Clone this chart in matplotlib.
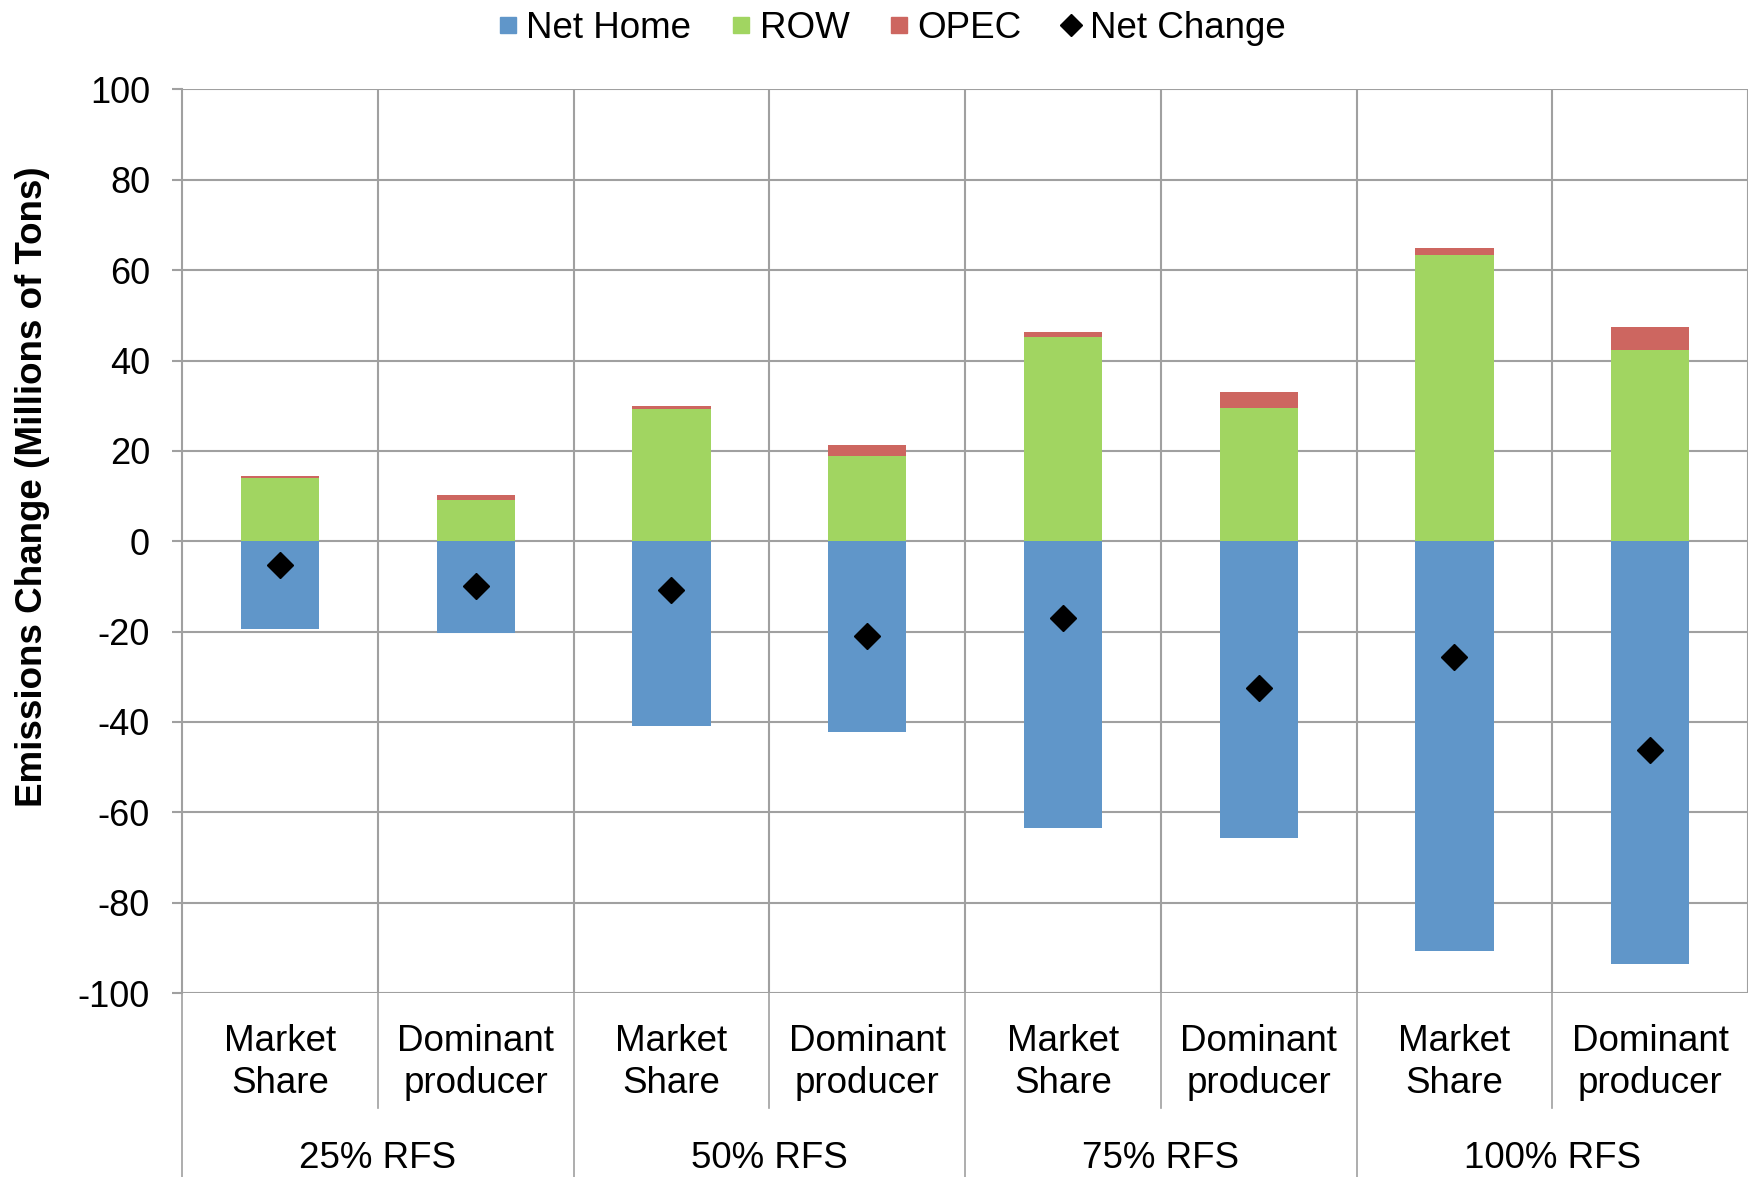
import matplotlib.pyplot as plt
import numpy as np
from matplotlib.lines import Line2D
from matplotlib.transforms import blended_transform_factory

plt.rcParams['font.family'] = ['Liberation Sans', 'DejaVu Sans']
plt.rcParams['axes.unicode_minus'] = False

# emissions change by scenario, millions of tons
sub_labels = ['Market\nShare', 'Dominant\nproducer'] * 4
group_labels = ['25% RFS', '50% RFS', '75% RFS', '100% RFS']
net_home = [-19.5, -20.4, -40.8, -42.3, -63.4, -65.6, -90.6, -93.6]
row = [14.0, 9.2, 29.3, 18.8, 45.2, 29.4, 63.3, 42.3]
opec = [0.4, 1.1, 0.7, 2.4, 1.1, 3.7, 1.7, 5.1]
net_change = [-5.2, -9.8, -10.9, -20.9, -17.1, -32.4, -25.7, -46.3]

c_home = '#6096C9'
c_row = '#A1D561'
c_opec = '#CD6660'
grid_c = '#A0A0A0'
fs = 26.5

fig = plt.figure(figsize=(17.54, 11.77), dpi=100)
ax = fig.add_axes([0.1038, 0.1563, 0.8928, 0.7677])

x = np.arange(len(net_home)) + 0.5
w = 0.40
ax.bar(x, net_home, w, color=c_home, zorder=3)
ax.bar(x, row, w, color=c_row, zorder=3)
ax.bar(x, opec, w, bottom=row, color=c_opec, zorder=3)
ax.plot(x, net_change, 'D', color='black', markersize=13.5, linestyle='none', zorder=4)

ax.set_xlim(0, 8)
ax.set_ylim(-100, 100)
ax.set_yticks(np.arange(-100, 101, 20))
ax.set_xticks([])
ax.grid(axis='y', color=grid_c, linewidth=1.5, zorder=0)
for xv in range(1, 9):
    ax.axvline(xv, color=grid_c, linewidth=1.5, zorder=0)
for s in ['top', 'right', 'bottom']:
    ax.spines[s].set_visible(False)
ax.spines['left'].set_color(grid_c)
ax.spines['left'].set_linewidth(1.5)
ax.tick_params(axis='y', direction='out', length=7, width=1.5, color=grid_c,
               labelsize=26, pad=16)
fig.text(0.0185, 0.5867, 'Emissions Change (Millions of Tons)', rotation=90,
         ha='center', va='center', fontsize=26.5, fontweight='bold')

# two-level category axis below the plot
tr = blended_transform_factory(ax.transData, ax.transAxes)
for i, lab in enumerate(sub_labels):
    ax.text(x[i], -0.077, lab, transform=tr, ha='center', va='center',
            fontsize=fs, linespacing=1.25)
for g, lab in enumerate(group_labels):
    ax.text(2 * g + 1, -0.183, lab, transform=tr, ha='center', va='center',
            fontsize=fs)
for xv in range(0, 8):
    bottom = -0.204 if xv % 2 == 0 else -0.127
    ax.add_line(Line2D([xv, xv], [0, bottom], transform=tr, color=grid_c,
                       linewidth=1.2, clip_on=False))

handles = [
    Line2D([], [], marker='s', color=c_home, linestyle='none', markersize=12),
    Line2D([], [], marker='s', color=c_row, linestyle='none', markersize=12),
    Line2D([], [], marker='s', color=c_opec, linestyle='none', markersize=12),
    Line2D([], [], marker='D', color='black', linestyle='none', markersize=11),
]
fig.legend(handles, ['Net Home', 'ROW', 'OPEC', 'Net Change'], loc='center',
           bbox_to_anchor=(0.506, 0.976), ncol=4, frameon=False, fontsize=fs,
           handletextpad=0.0, columnspacing=0.85, handlelength=1.0,
           borderpad=0.0)

fig.savefig('out.png', dpi=100)
